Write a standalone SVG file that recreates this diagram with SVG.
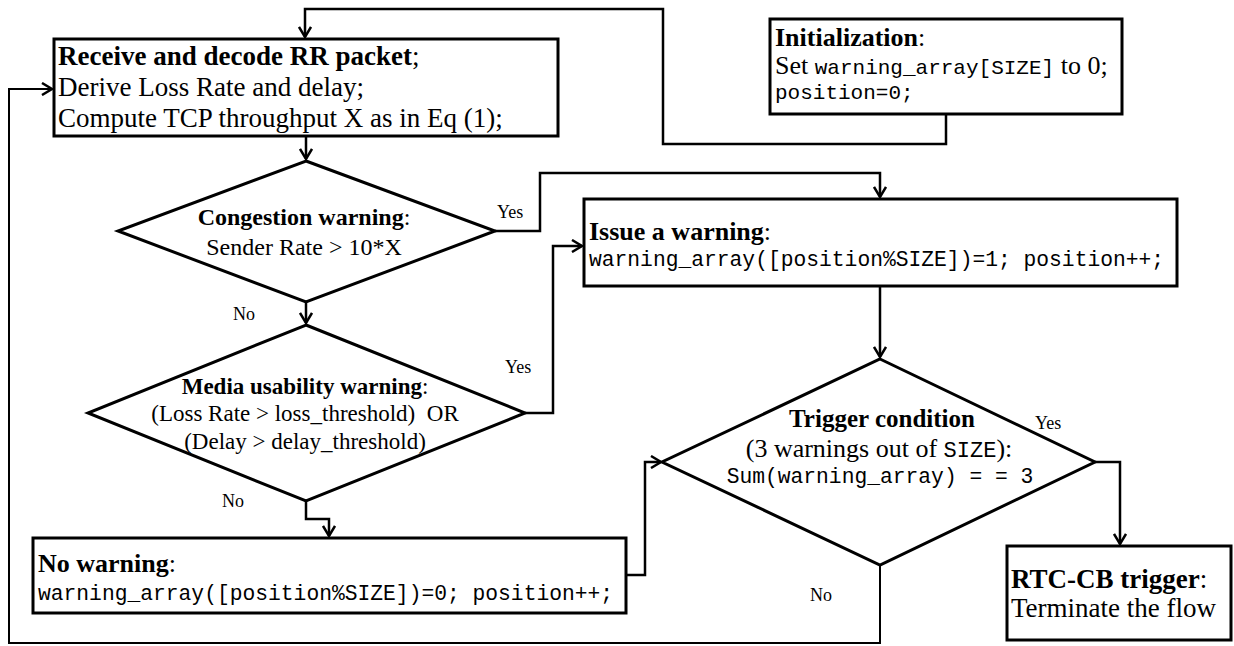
<svg xmlns="http://www.w3.org/2000/svg" width="1234" height="646" viewBox="0 0 1234 646">
<style>
.shape{fill:#fff;stroke:#000;stroke-width:3}
.conn{fill:none;stroke:#000;stroke-width:2.5;stroke-linejoin:miter}
.thin{stroke-width:2}
.t{font-family:"Liberation Serif","Times New Roman",serif;fill:#000}
.b{font-weight:bold}
.m{font-family:"Liberation Mono","Courier New",monospace}
.lbl{font-family:"Liberation Serif","Times New Roman",serif;font-size:18px;fill:#000}
</style>
<defs>
<marker id="arr" markerUnits="userSpaceOnUse" markerWidth="14" markerHeight="14" viewBox="0 0 14 14" refX="12" refY="7" orient="auto">
<path d="M2,1 L12,7 L2,13" fill="none" stroke="#000" stroke-width="2.5"/>
</marker>
</defs>
<rect width="1234" height="646" fill="#fff"/>
<g id="connectors">
<path class="conn" d="M946,114 V144 H663 V9 H305 V37" marker-end="url(#arr)"/>
<path class="conn" d="M306,136 V159" marker-end="url(#arr)"/>
<path class="conn" d="M306,302 V323" marker-end="url(#arr)"/>
<path class="conn" d="M495,231 H540 V173 H880 V197" marker-end="url(#arr)"/>
<path class="conn" d="M525,413 H553 V246 H582" marker-end="url(#arr)"/>
<path class="conn" d="M306,501 V519 H329 V536" marker-end="url(#arr)"/>
<path class="conn" d="M880,286 V357" marker-end="url(#arr)"/>
<path class="conn" d="M626,575 H645 V462 H661" marker-end="url(#arr)"/>
<path class="conn" d="M1095,462 H1120 V544" marker-end="url(#arr)"/>
<path class="conn thin" d="M880,565 V643 H9 V89 H52" marker-end="url(#arr)"/>
</g>
<g id="receive">
<rect class="shape" x="54" y="39" width="504" height="97"/>
<text class="t" font-size="27" x="58" y="65"><tspan class="b">Receive and decode RR packet</tspan>;</text>
<text class="t" font-size="27" x="58" y="96">Derive Loss Rate and delay;</text>
<text class="t" font-size="27" x="58" y="127">Compute TCP throughput X as in Eq (1);</text>
</g>
<g id="init">
<rect class="shape" x="770" y="19" width="352" height="95"/>
<text class="t" font-size="26" x="775" y="46"><tspan class="b">Initialization</tspan>:</text>
<text class="t" font-size="26" x="775" y="74">Set <tspan class="m" font-size="21">warning_array[SIZE]</tspan> to 0;</text>
<text class="t m" font-size="21" x="775" y="99">position=0;</text>
</g>
<g id="congestion">
<polygon class="shape" points="306,161 495,231 306,302 118,231"/>
<text class="t" font-size="24" x="304" y="225" text-anchor="middle"><tspan class="b">Congestion warning</tspan>:</text>
<text class="t" font-size="24" x="304" y="255" text-anchor="middle">Sender Rate &gt; 10*X</text>
</g>
<g id="issue">
<rect class="shape" x="584" y="199" width="593" height="87"/>
<text class="t" font-size="26" x="589" y="240"><tspan class="b">Issue a warning</tspan>:</text>
<text class="t m" font-size="21.3" x="589" y="266">warning_array([position%SIZE])=1; position++;</text>
</g>
<g id="media">
<polygon class="shape" points="306,325 525,413 306,501 88,413"/>
<text class="t" font-size="23" x="305" y="394" text-anchor="middle"><tspan class="b">Media usability warning</tspan>:</text>
<text class="t" font-size="23" x="305" y="421" text-anchor="middle" xml:space="preserve">(Loss Rate &gt; loss_threshold)  OR</text>
<text class="t" font-size="23" x="305" y="449" text-anchor="middle">(Delay &gt; delay_threshold)</text>
</g>
<g id="trigger">
<polygon class="shape" points="880,359 1095,462 880,565 662,462"/>
<text class="t b" font-size="25" x="882" y="427" text-anchor="middle">Trigger condition</text>
<text class="t" font-size="26" x="879" y="457" text-anchor="middle">(3 warnings out of <tspan class="m" font-size="22">SIZE</tspan>):</text>
<text class="t m" font-size="21.3" x="880" y="483" text-anchor="middle">Sum(warning_array) = = 3</text>
</g>
<g id="nowarning">
<rect class="shape" x="33" y="538" width="593" height="75"/>
<text class="t" font-size="26" x="38" y="572"><tspan class="b">No warning</tspan>:</text>
<text class="t m" font-size="21.3" x="38" y="600">warning_array([position%SIZE])=0; position++;</text>
</g>
<g id="rtc">
<rect class="shape" x="1007" y="546" width="224" height="94"/>
<text class="t" font-size="27" x="1011" y="588"><tspan class="b">RTC-CB trigger</tspan>:</text>
<text class="t" font-size="27" x="1011" y="617">Terminate the flow</text>
</g>
<g id="labels">
<text class="lbl" x="497" y="218">Yes</text>
<text class="lbl" x="233" y="320">No</text>
<text class="lbl" x="505" y="373">Yes</text>
<text class="lbl" x="222" y="507">No</text>
<text class="lbl" x="1035" y="429">Yes</text>
<text class="lbl" x="810" y="601">No</text>
</g>
</svg>
